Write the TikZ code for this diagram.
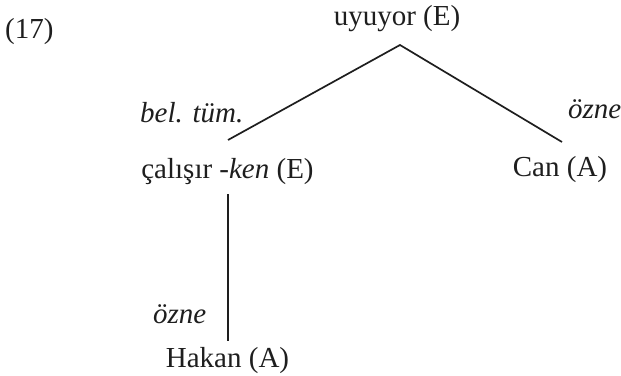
\documentclass[tikz,border=0pt]{standalone}
\usepackage{fontspec}
\setmainfont{Liberation Serif}
\definecolor{ink}{RGB}{30,30,30}
\begin{document}
\begin{tikzpicture}[x=1pt,y=-1pt,
  lab/.style={inner sep=0pt,anchor=base,text=ink,font=\fontsize{29}{32}\selectfont},
  rel/.style={inner sep=0pt,anchor=base west,text=ink,font=\fontsize{29}{32}\selectfont\itshape},
  edge/.style={draw=ink,line width=1.7pt}]
\useasboundingbox (0,0) rectangle (621,375);
\node[lab,anchor=base west] (ex) at (5,38) {(17)};
\node[lab] (top) at (397,25) {uyuyor (E)};
\node[lab] (cal) at (227.5,178) {çalışır \textit{-ken} (E)};
\node[lab] (can) at (560,176) {Can (A)};
\node[lab] (hak) at (227.5,367) {Hakan (A)};
\node[rel] (l1) at (140,122) {bel. tüm.};
\node[rel] (l2) at (568,118) {özne};
\node[rel] (l3) at (153,323) {özne};
\coordinate (apex) at (400,45);
\coordinate (e1) at (228,140);
\coordinate (e2) at (562,142);
\coordinate (v1) at (228,194);
\coordinate (v2) at (228,341);
\draw[edge] (e1) -- (apex) -- (e2);
\draw[edge] (v1) -- (v2);
\end{tikzpicture}
\end{document}
